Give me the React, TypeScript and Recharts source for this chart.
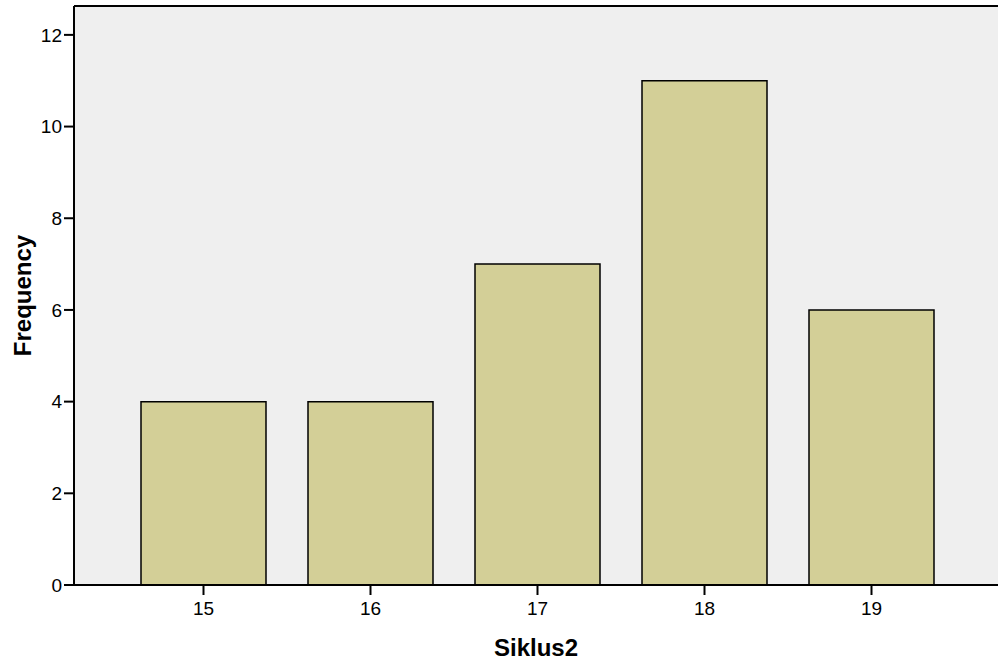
import { BarChart, Bar, XAxis, YAxis, CartesianGrid, ReferenceLine, Label } from "recharts";

// Siklus2 frequency histogram
const categories = ["15", "16", "17", "18", "19"];
const frequencies = [4, 4, 7, 11, 6];
const yTicks = [0, 2, 4, 6, 8, 10, 12];
const yMax = 12.63;

const data = categories.map((c, i) => ({ siklus: c, freq: frequencies[i] }));

const FONT = "'Liberation Sans', Arial, sans-serif";

export default function App() {
  return (
    <div style={{ position: "absolute", left: 0, top: 0, width: 998, height: 667, background: "#fff" }}>
      <BarChart
        width={998}
        height={667}
        data={data}
        margin={{ top: 6, right: 0, bottom: 0, left: 0 }}
      >
        <CartesianGrid fill="#efefef" horizontal={false} vertical={false} />
        <XAxis
          dataKey="siklus"
          padding={{ left: 46, right: 43 }}
          height={82}
          tickSize={10}
          tickMargin={7}
          tick={{ fontSize: 19, fill: "#000", fontFamily: FONT }}
          axisLine={{ stroke: "#000", strokeWidth: 2 }}
          tickLine={{ stroke: "#000", strokeWidth: 2 }}
        >
          <Label
            content={({ viewBox }: any) => (
              <text
                x={viewBox.x + viewBox.width / 2}
                y={viewBox.y + 71}
                textAnchor="middle"
                fontSize={24}
                fontWeight="bold"
                fontFamily={FONT}
                fill="#000"
              >
                Siklus2
              </text>
            )}
          />
        </XAxis>
        <YAxis
          width={74}
          domain={[0, yMax]}
          ticks={yTicks}
          interval={0}
          tickSize={10}
          tick={{ fontSize: 19, fill: "#000", fontFamily: FONT }}
          axisLine={{ stroke: "#000", strokeWidth: 2 }}
          tickLine={{ stroke: "#000", strokeWidth: 2 }}
        >
          <Label
            content={({ viewBox }: any) => (
              <text
                x={22}
                y={viewBox.y + viewBox.height / 2}
                transform={`rotate(-90, 22, ${viewBox.y + viewBox.height / 2})`}
                textAnchor="middle"
                dominantBaseline="central"
                fontSize={24}
                fontWeight="bold"
                fontFamily={FONT}
                fill="#000"
              >
                Frequency
              </text>
            )}
          />
        </YAxis>
        <ReferenceLine y={yMax} stroke="#000" strokeWidth={2} ifOverflow="visible" />
        <Bar
          dataKey="freq"
          barSize={125}
          fill="#d3cf97"
          stroke="#000"
          strokeWidth={1.5}
          isAnimationActive={false}
        />
      </BarChart>
    </div>
  );
}
